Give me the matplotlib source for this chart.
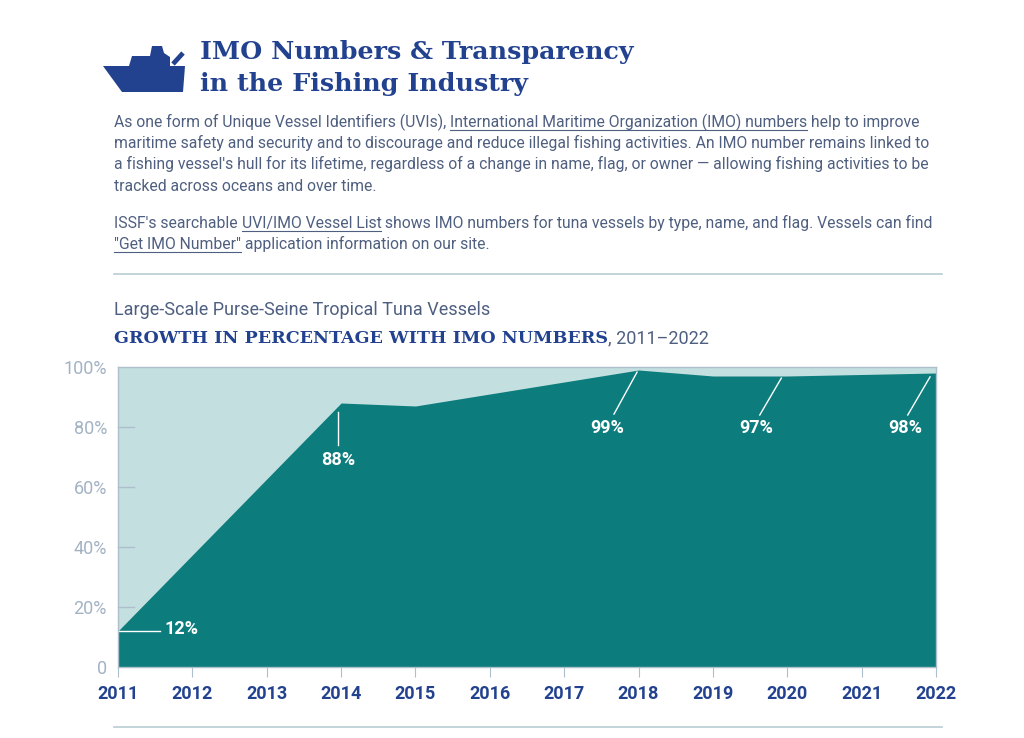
import matplotlib
matplotlib.use("Agg")
import matplotlib.pyplot as plt
from matplotlib.patches import Polygon

# ---- data ----
years = [2011, 2014, 2015, 2018, 2019, 2020, 2021, 2022]
pct_with_imo = [12, 88, 87, 99, 97, 97, 97.5, 98]
year_ticks = list(range(2011, 2023))
y_ticks = [0, 20, 40, 60, 80, 100]
y_tick_labels = ["0", "20%", "40%", "60%", "80%", "100%"]
callouts = [  # (label, x_point, y_point, x_line_end, y_line_end, x_text, y_text)
    ("12%", 2011.0, 12, 2011.56, 12, 2011.62, 12.6),
    ("88%", 2013.96, 85, 2013.96, 74, 2013.96, 69),
    ("99%", 2017.98, 98.3, 2017.67, 84.3, 2017.58, 79.7),
    ("97%", 2019.92, 96.3, 2019.63, 84.0, 2019.58, 79.7),
    ("98%", 2021.92, 96.7, 2021.62, 84.0, 2021.58, 79.7),
]

NAVY = "#22418f"
BODY = "#4f5f80"
DARK = "#0c7c7c"
LIGHT = "#c3dfe0"
GRAYTXT = "#a3b3c4"
EDGE = "#aebfcc"

W, H = 1024, 738
fig = plt.figure(figsize=(W / 100, H / 100), dpi=100)
fig.patch.set_facecolor("white")

def fx(px):
    return px / W

def fy(py):
    return 1 - py / H

# ---- ship icon ----
ship_poly = [(103, 66), (129, 66), (132, 56), (150, 56), (152, 46), (162, 46), (164, 53),
             (170, 57), (170, 66), (185, 66), (183, 92), (122, 92)]
fig.patches.append(Polygon([(fx(x), fy(y)) for x, y in ship_poly], closed=True,
                           transform=fig.transFigure, facecolor=NAVY, edgecolor="none"))
fig.add_artist(plt.Line2D([fx(173), fx(183)], [fy(64), fy(53)], transform=fig.transFigure,
                          color=NAVY, lw=3.4, solid_capstyle="butt"))

# ---- title ----
fig.text(fx(200), fy(52), "IMO Numbers & Transparency", family="DejaVu Serif",
         weight="bold", size=18.3, color=NAVY, va="center", ha="left")
fig.text(fx(200), fy(84), "in the Fishing Industry", family="DejaVu Serif",
         weight="bold", size=18.3, color=NAVY, va="center", ha="left")

# ---- body text with underlined links ----
fig.canvas.draw()
renderer = fig.canvas.get_renderer()
BFS = 11.3
BFAM = "Roboto"

def runs(y, parts):
    x = fx(114)
    for txt, ul in parts:
        t = fig.text(x, fy(y), txt, family=BFAM, size=BFS, color=BODY, va="baseline",
                     ha="left")
        bb = t.get_window_extent(renderer=renderer)
        x1 = x + bb.width / W
        if ul:
            fig.add_artist(plt.Line2D([x, x1], [fy(y + 3), fy(y + 3)], transform=fig.transFigure,
                                      color=BODY, lw=0.8))
        x = x1

runs(127, [("As one form of Unique Vessel Identifiers (UVIs), ", False),
           ("International Maritime Organization (IMO) numbers", True),
           (" help to improve", False)])
runs(148, [("maritime safety and security and to discourage and reduce illegal fishing activities. An IMO number remains linked to", False)])
runs(169, [("a fishing vessel's hull for its lifetime, regardless of a change in name, flag, or owner \u2014 allowing fishing activities to be", False)])
runs(191, [("tracked across oceans and over time.", False)])
runs(228, [("ISSF's searchable ", False), ("UVI/IMO Vessel List", True),
           (" shows IMO numbers for tuna vessels by type, name, and flag. Vessels can find", False)])
runs(249, [("\"Get IMO Number\"", True), (" application information on our site.", False)])

# separators
fig.add_artist(plt.Line2D([fx(114), fx(942)], [fy(274), fy(274)], transform=fig.transFigure,
                          color="#b9ccd4", lw=1.2))
fig.add_artist(plt.Line2D([fx(114), fx(942)], [fy(727), fy(727)], transform=fig.transFigure,
                          color="#b9ccd4", lw=1.2))

# chart titles
fig.text(fx(114), fy(315), "Large-Scale Purse-Seine Tropical Tuna Vessels", family=BFAM,
         size=13, color=BODY, va="baseline", ha="left")
t = fig.text(fx(114), fy(343), "GROWTH IN PERCENTAGE WITH IMO NUMBERS", family="DejaVu Serif",
             weight="bold", size=12.6, color=NAVY, va="baseline", ha="left")
bb = t.get_window_extent(renderer=renderer)
fig.text(fx(114) + bb.width / W, fy(343), ", 2011\u20132022", family=BFAM, size=13,
         color=BODY, va="baseline", ha="left")

# ---- chart ----
ax = fig.add_axes([fx(118), fy(667), fx(936) - fx(118), fy(367) - fy(667)])
ax.set_facecolor(LIGHT)
ax.fill_between(years, pct_with_imo, 0, color=DARK, lw=0)
ax.set_xlim(2011, 2022)
ax.set_ylim(0, 100)
for s in ax.spines.values():
    s.set_color(EDGE)
    s.set_linewidth(1)
ax.set_xticks(year_ticks)
ax.set_xticklabels([str(y) for y in year_ticks], family=BFAM, weight="bold", size=13,
                   color=NAVY)
ax.set_yticks(y_ticks)
ax.set_yticklabels(y_tick_labels, family=BFAM, size=13, color=GRAYTXT)
ax.tick_params(axis="x", length=7, color=EDGE, pad=6)
ax.tick_params(axis="y", length=0, pad=8)
for yv in y_ticks[1:-1]:
    ax.plot([2011, 2011.22], [yv, yv], color=EDGE, lw=1, clip_on=False)

for lab, x0, y0, x1, y1, xt, yt in callouts:
    ax.plot([x0, x1], [y0, y1], color="white", lw=1)
    ax.text(xt, yt, lab, ha="left" if lab == "12%" else "center", va="center", family=BFAM,
            weight="bold", size=13, color="white")

fig.savefig("out.png", dpi=100, facecolor="white")
